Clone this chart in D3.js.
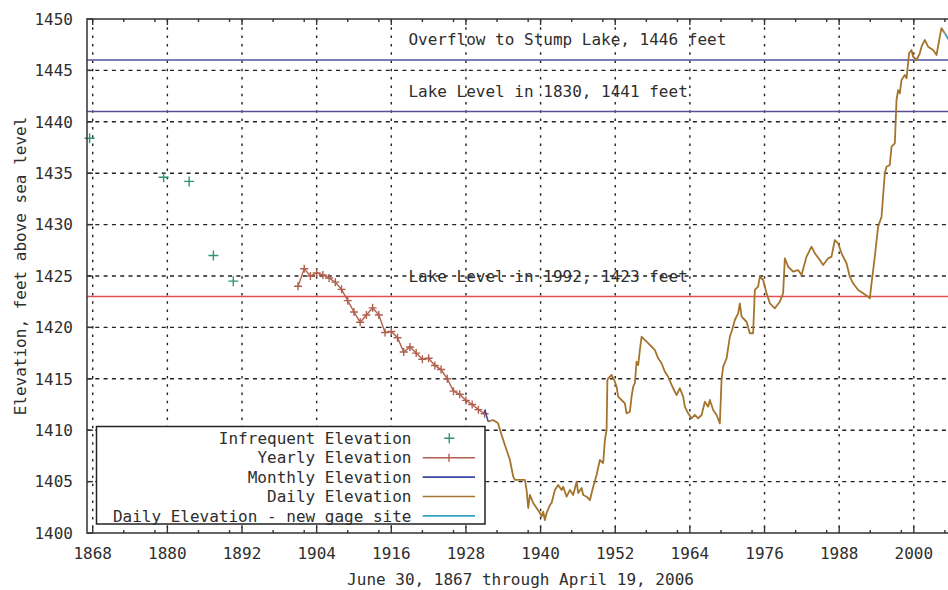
<!DOCTYPE html>
<html>
<head>
<meta charset="utf-8">
<script src="https://cdn.jsdelivr.net/npm/d3@7"></script>
<style>
  html, body { margin: 0; padding: 0; background: #fff; }
  svg text { font-family: "DejaVu Sans Mono", "Liberation Mono", monospace; font-size: 16px; fill: #2e2e2e; }
</style>
</head>
<body>
<div id="chart"></div>
<script>
// axis ticks
const xTicks = [1868, 1880, 1892, 1904, 1916, 1928, 1940, 1952, 1964, 1976, 1988, 2000];
const yTicks = [1400, 1405, 1410, 1415, 1420, 1425, 1430, 1435, 1440, 1445, 1450];

// infrequent surveys
const infrequentYears = [1867.5, 1879.4, 1883.5, 1887.4, 1890.6];
const infrequentElev = [1438.4, 1434.6, 1434.2, 1427.0, 1424.5];

// yearly readings
const yearlyYears = [1901, 1902, 1903, 1904, 1905, 1906, 1907, 1908, 1909, 1910, 1911, 1912, 1913, 1914, 1915, 1916,
  1917, 1918, 1919, 1920, 1921, 1922, 1923, 1924, 1925, 1926, 1927, 1928, 1929, 1930, 1931];
const yearlyElev = [1424.0, 1425.7, 1425.0, 1425.3, 1425.1, 1424.8, 1424.4, 1423.7, 1422.6, 1421.5, 1420.5, 1421.2,
  1421.9, 1421.2, 1419.5, 1419.6, 1419.0, 1417.6, 1418.1, 1417.5, 1416.9, 1417.0, 1416.3, 1415.9, 1415.0, 1413.8,
  1413.5, 1412.9, 1412.5, 1412.0, 1411.6];

// monthly readings
const monthlyYears = [1930.9, 1931.1, 1931.3, 1931.5, 1931.58];
const monthlyElev = [1411.7, 1411.9, 1411.4, 1411.0, 1410.83];

// daily readings
const dailyYears = [1931.58, 1932.34, 1933.14, 1933.73, 1934.26, 1935.07, 1935.6, 1935.87, 1937.48, 1937.75, 1938.01,
  1938.28, 1938.81, 1939.36, 1939.89, 1940.16, 1940.42, 1940.69, 1940.97, 1941.5, 1941.77, 1942.3, 1942.83, 1943.38,
  1943.63, 1944.18, 1944.71, 1945.24, 1945.79, 1946.05, 1946.59, 1946.85, 1947.4, 1947.93, 1948.46, 1949.0, 1949.53,
  1950.06, 1950.34, 1950.61, 1950.74, 1950.87, 1951.41, 1951.94, 1952.22, 1952.47, 1953.02, 1953.55, 1953.82, 1954.36,
  1954.63, 1954.89, 1955.16, 1955.43, 1955.69, 1955.96, 1956.24, 1956.49, 1957.04, 1957.84, 1958.37, 1958.9, 1959.45,
  1959.98, 1960.51, 1961.06, 1961.31, 1961.86, 1962.39, 1962.92, 1963.19, 1963.72, 1964.27, 1964.8, 1965.33, 1965.88,
  1966.41, 1966.94, 1967.21, 1967.74, 1968.29, 1968.82, 1969.09, 1969.35, 1969.9, 1970.43, 1970.7, 1971.23, 1971.76,
  1972.03, 1972.31, 1973.11, 1973.64, 1974.17, 1974.44, 1974.97, 1975.25, 1975.78, 1976.05, 1976.33, 1976.86, 1977.66,
  1978.46, 1978.99, 1979.27, 1979.8, 1980.6, 1981.4, 1981.95, 1982.75, 1983.56, 1984.09, 1984.89, 1985.42, 1986.23,
  1986.77, 1987.3, 1987.83, 1988.38, 1989.18, 1989.71, 1990.24, 1991.05, 1991.85, 1992.65, 1992.93, 1993.2, 1993.73,
  1994.26, 1994.81, 1995.34, 1995.61, 1996.14, 1996.42, 1996.95, 1997.22, 1997.48, 1997.75, 1998.02, 1998.55, 1998.83,
  1999.24, 1999.63, 1999.89, 2000.44, 2000.96, 2001.24, 2001.77, 2002.3, 2003.1, 2003.65, 2004.18, 2004.45, 2004.98];
const dailyElev = [1410.83, 1410.99, 1410.7, 1409.53, 1408.56, 1407.1, 1405.48, 1405.16, 1405.16, 1404.18, 1402.43,
  1403.7, 1402.92, 1402.43, 1401.95, 1401.59, 1402.07, 1401.26, 1401.95, 1402.72, 1402.92, 1404.18, 1404.67, 1404.18,
  1404.5, 1403.53, 1404.18, 1403.7, 1404.99, 1403.89, 1404.38, 1403.7, 1403.53, 1403.21, 1404.5, 1405.64, 1407.1,
  1406.81, 1409.05, 1410.02, 1414.88, 1415.05, 1415.37, 1414.72, 1414.23, 1413.26, 1412.94, 1412.62, 1411.64, 1411.8,
  1413.26, 1414.23, 1414.59, 1416.66, 1416.34, 1417.8, 1419.1, 1418.94, 1418.61, 1418.12, 1417.8, 1416.99, 1416.51,
  1415.69, 1415.2, 1414.4, 1414.08, 1413.42, 1414.08, 1413.26, 1412.29, 1411.64, 1411.16, 1411.48, 1411.16, 1411.48,
  1412.77, 1412.29, 1412.94, 1411.96, 1411.48, 1410.67, 1414.88, 1416.18, 1416.99, 1419.1, 1419.58, 1420.72, 1421.37,
  1422.34, 1421.04, 1420.55, 1419.43, 1419.43, 1423.64, 1423.96, 1424.93, 1424.61, 1423.96, 1423.32, 1422.34, 1421.86,
  1422.5, 1423.32, 1426.72, 1425.9, 1425.42, 1425.58, 1425.1, 1426.88, 1427.85, 1427.21, 1426.56, 1426.07, 1426.72,
  1426.88, 1428.5, 1428.18, 1427.21, 1426.24, 1424.93, 1424.29, 1423.64, 1423.32, 1422.99, 1422.83, 1424.29, 1426.88,
  1429.8, 1430.77, 1434.99, 1435.63, 1435.8, 1437.58, 1437.91, 1442.12, 1443.09, 1442.77, 1444.07, 1444.55, 1444.23,
  1446.66, 1446.98, 1446.33, 1446.01, 1446.66, 1447.31, 1447.96, 1447.31, 1446.98, 1446.5, 1448.28, 1449.1, 1448.61];

// daily readings at the new gage site
const newGageYears = [2004.98, 2005.3, 2005.6, 2006.0, 2006.3];
const newGageElev = [1448.61, 1448.3, 1448.0, 1448.5, 1449.0];

// reference levels
const refLevels = [1446, 1441, 1423];
const refLabels = ['Overflow to Stump Lake, 1446 feet', 'Lake Level in 1830, 1441 feet', 'Lake Level in 1992, 1423 feet'];
const refLabelElev = [1448, 1443, 1425];
const refLabelYear = 1918.75;

const legendLabels = ['Infrequent Elevation', 'Yearly Elevation', 'Monthly Elevation', 'Daily Elevation',
  'Daily Elevation - new gage site'];

const width = 948, height = 590;
const plotLeft = 87, plotTop = 19, plotBottom = 533, plotRight = 953;

const colors = {
  infrequent: '#2e9670',
  yearly: '#b0604e',
  monthly: '#3a46a0',
  daily: '#a5742c',
  newGage: '#35a0c4',
  ref: ['#5252a2', '#5e4a92', '#e05050']
};

const svg = d3.select('#chart').append('svg')
  .attr('width', width)
  .attr('height', height);

const x = d3.scaleLinear().domain([1867.08, 2006.3]).range([plotLeft, plotRight]);
const y = d3.scaleLinear().domain([1400, 1450]).range([plotBottom, plotTop]);

// grid
const grid = svg.append('g').attr('stroke', '#222').attr('stroke-width', 1.4);
grid.selectAll('line.vg').data(xTicks).enter().append('line')
  .attr('x1', d => x(d)).attr('x2', d => x(d))
  .attr('y1', plotTop).attr('y2', plotBottom)
  .attr('stroke-dasharray', '2.5,5.8');
grid.selectAll('line.hg').data(yTicks.slice(1, -1)).enter().append('line')
  .attr('y1', d => y(d)).attr('y2', d => y(d))
  .attr('x1', plotLeft).attr('x2', plotRight)
  .attr('stroke-dasharray', '4,4.3');

// reference levels and their labels
svg.selectAll('line.ref').data(refLevels).enter().append('line')
  .attr('x1', plotLeft).attr('x2', plotRight)
  .attr('y1', d => y(d)).attr('y2', d => y(d))
  .attr('stroke', (d, i) => colors.ref[i])
  .attr('stroke-width', 1.5);

svg.selectAll('text.ref').data(refLabels).enter().append('text')
  .attr('x', x(refLabelYear))
  .attr('y', (d, i) => y(refLabelElev[i]))
  .attr('dy', '0.36em')
  .text(d => d);

// series
const zip = (xs, ys) => xs.map((v, i) => [v, ys[i]]);
const line = d3.line().x(d => x(d[0])).y(d => y(d[1]));

const plot = svg.append('g');

plot.append('path')
  .datum(zip(yearlyYears, yearlyElev))
  .attr('d', line).attr('fill', 'none')
  .attr('stroke', colors.yearly).attr('stroke-width', 1.4);

const plus = (g, pts, color, size) => {
  g.selectAll(null).data(pts).enter().append('path')
    .attr('d', d => {
      const cx = x(d[0]), cy = y(d[1]);
      return `M${cx - size},${cy}H${cx + size}M${cx},${cy - size}V${cy + size}`;
    })
    .attr('stroke', color).attr('stroke-width', 1.4).attr('fill', 'none');
};

plus(plot, zip(yearlyYears, yearlyElev), colors.yearly, 4);
plus(plot, zip(infrequentYears, infrequentElev), colors.infrequent, 5);

plot.append('path')
  .datum(zip(dailyYears, dailyElev))
  .attr('d', line).attr('fill', 'none')
  .attr('stroke', colors.daily).attr('stroke-width', 1.8)
  .attr('stroke-linejoin', 'round');

plot.append('path')
  .datum(zip(monthlyYears, monthlyElev))
  .attr('d', line).attr('fill', 'none')
  .attr('stroke', colors.monthly).attr('stroke-width', 1.5);

plot.append('path')
  .datum(zip(newGageYears, newGageElev))
  .attr('d', line).attr('fill', 'none')
  .attr('stroke', colors.newGage).attr('stroke-width', 1.8);

// legend
const legend = svg.append('g');
legend.append('rect')
  .attr('x', 96.5).attr('y', 426.5)
  .attr('width', 388.5).attr('height', 97.5)
  .attr('fill', '#fff').attr('stroke', '#222').attr('stroke-width', 1.5);

const rowY = i => 438.3 + i * 19.4;
legend.selectAll('text').data(legendLabels).enter().append('text')
  .attr('x', 411.5)
  .attr('y', (d, i) => rowY(i))
  .attr('dy', '0.36em')
  .attr('text-anchor', 'end')
  .text(d => d);

const legendColors = [null, colors.yearly, colors.monthly, colors.daily, colors.newGage];
legend.selectAll('line.sample').data(legendColors.slice(1)).enter().append('line')
  .attr('x1', 422.7).attr('x2', 475)
  .attr('y1', (d, i) => rowY(i + 1)).attr('y2', (d, i) => rowY(i + 1))
  .attr('stroke', d => d).attr('stroke-width', 1.6);
legend.append('path')
  .attr('d', `M444.3,${rowY(0)}H454.3M449.3,${rowY(0) - 5}V${rowY(0) + 5}`)
  .attr('stroke', colors.infrequent).attr('stroke-width', 1.4);
legend.append('path')
  .attr('d', `M449,${rowY(1) - 4}V${rowY(1) + 4}`)
  .attr('stroke', colors.yearly).attr('stroke-width', 1.4);

// border and ticks
svg.append('rect')
  .attr('x', plotLeft).attr('y', plotTop)
  .attr('width', plotRight - plotLeft).attr('height', plotBottom - plotTop)
  .attr('fill', 'none').attr('stroke', '#333').attr('stroke-width', 1.5);

const minorX = xTicks.flatMap(t => [t + 5, t + 10]).filter(t => x(t) < plotRight);
const ticks = svg.append('g').attr('stroke', '#333').attr('stroke-width', 1.4);
[plotBottom, plotTop].forEach(edge => {
  const dir = edge === plotBottom ? -1 : 1;
  ticks.selectAll(null).data(xTicks).enter().append('line')
    .attr('x1', d => x(d)).attr('x2', d => x(d))
    .attr('y1', edge).attr('y2', edge + dir * 6);
  ticks.selectAll(null).data(minorX).enter().append('line')
    .attr('x1', d => x(d)).attr('x2', d => x(d))
    .attr('y1', edge).attr('y2', edge + dir * 3);
});
ticks.selectAll(null).data(yTicks).enter().append('line')
  .attr('x1', plotLeft).attr('x2', plotLeft + 6)
  .attr('y1', d => y(d)).attr('y2', d => y(d));

// tick labels
svg.selectAll('text.xt').data(xTicks).enter().append('text')
  .attr('x', d => x(d)).attr('y', 559)
  .attr('text-anchor', 'middle')
  .text(d => d);

svg.selectAll('text.yt').data(yTicks).enter().append('text')
  .attr('x', 73).attr('y', d => y(d))
  .attr('dy', '0.36em')
  .attr('text-anchor', 'end')
  .text(d => d);

// axis titles
svg.append('text')
  .attr('x', 520.5).attr('y', 585)
  .attr('text-anchor', 'middle')
  .text('June 30, 1867 through April 19, 2006');

svg.append('text')
  .attr('transform', 'translate(25.5,266) rotate(-90)')
  .attr('text-anchor', 'middle')
  .text('Elevation, feet above sea level');
</script>
</body>
</html>
